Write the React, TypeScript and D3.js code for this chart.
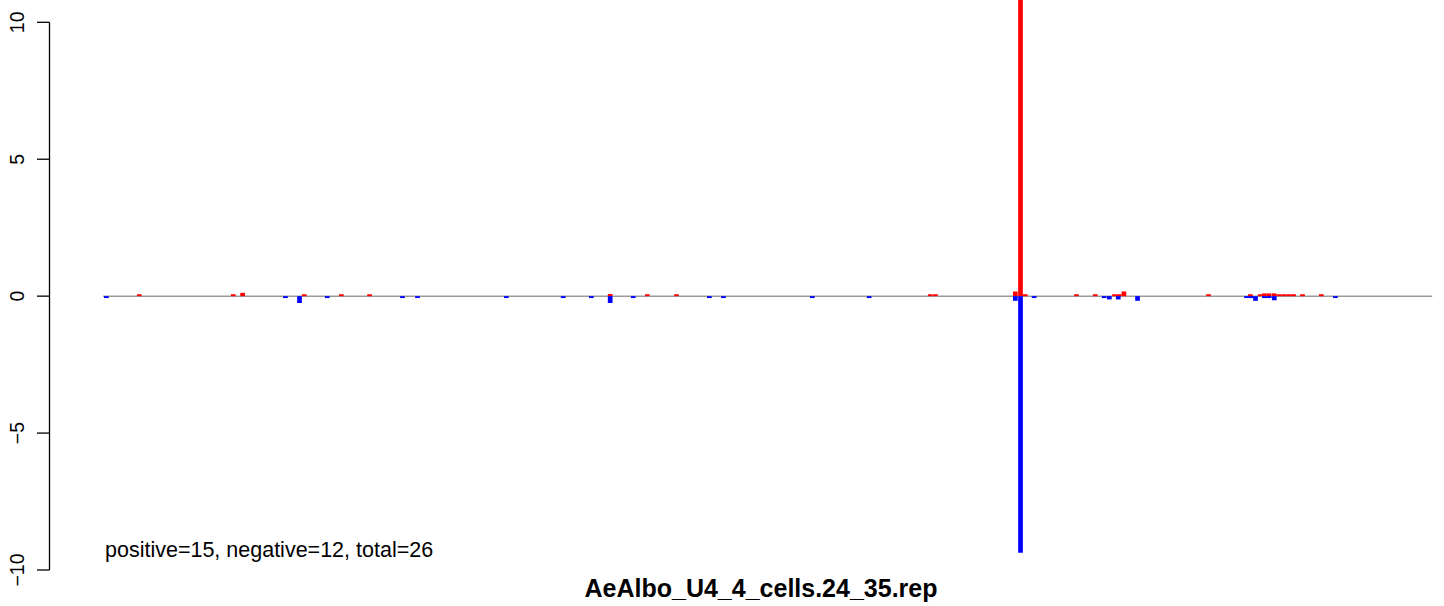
import React from "react";
import * as d3 from "d3";

// bin positions (bin index) and values
const posBins = [7.0, 27.0, 29.0, 42.1, 50.0, 56.0, 107.2, 115.1, 121.3, 175.3, 176.4, 193.4, 194.5, 195.5, 206.4, 210.4, 214.5, 215.5, 216.5, 234.5, 243.4, 245.5, 246.4, 247.4, 248.5, 249.6, 250.6, 251.6, 252.6, 254.5, 258.5];
const posValues = [0.07, 0.07, 0.12, 0.07, 0.07, 0.07, 0.08, 0.07, 0.07, 0.07, 0.07, 0.17, 12.5, 0.07, 0.07, 0.07, 0.07, 0.07, 0.17, 0.07, 0.07, 0.07, 0.1, 0.1, 0.1, 0.07, 0.07, 0.07, 0.07, 0.07, 0.07];
const negBins = [0, 38.1, 41.1, 47.0, 63.0, 66.2, 85.1, 97.2, 103.2, 107.2, 112.1, 128.3, 131.3, 150.2, 162.3, 193.4, 194.5, 197.4, 212.3, 213.4, 215.3, 219.4, 242.6, 243.6, 244.5, 246.4, 247.4, 248.5, 261.5];
const negValues = [-0.07, -0.07, -0.25, -0.07, -0.07, -0.07, -0.07, -0.07, -0.07, -0.25, -0.07, -0.07, -0.07, -0.07, -0.07, -0.17, -9.37, -0.07, -0.07, -0.12, -0.12, -0.17, -0.07, -0.07, -0.17, -0.07, -0.07, -0.15, -0.07];
const yTicks = [-10, -5, 0, 5, 10];
const lineRange = [-0.2, 282.6];
const title = "AeAlbo_U4_4_cells.24_35.rep";
const summary = "positive=15, negative=12, total=26";

const W = 1444;
const H = 606;

export default function App() {
  const x = d3.scaleLinear().domain([0, 283]).range([104, 104 + 283 * 4.7]);
  const y = d3.scaleLinear().domain([-10, 10]).range([570, 22.3]);
  const bw = x(1) - x(0);
  const axisX = 49.5;
  const font = "Liberation Sans, Arial, Helvetica, sans-serif";

  const pos = posBins.map((b, i) => ({ b, v: posValues[i] }));
  const neg = negBins.map((b, i) => ({ b, v: negValues[i] }));

  return (
    <svg width={W} height={H} style={{ position: "absolute", left: 0, top: 0, background: "#fff" }} fontFamily={font}>
      <line x1={x(lineRange[0])} x2={x(lineRange[1])} y1={y(0)} y2={y(0)} stroke="#9a9a9a" strokeWidth={1.5} />
      {pos.map((d, i) => (
        <rect key={"p" + i} x={x(d.b)} width={bw} y={Math.max(0, y(d.v))} height={y(0) - Math.max(0, y(d.v))} fill="#ff0000" />
      ))}
      {neg.map((d, i) => (
        <rect key={"n" + i} x={x(d.b)} width={bw} y={y(0)} height={y(d.v) - y(0)} fill="#0000ff" />
      ))}
      <line x1={axisX} x2={axisX} y1={y(-10)} y2={y(10)} stroke="#000" strokeWidth={1.3} />
      {yTicks.map((t) => (
        <g key={t}>
          <line x1={axisX - 12.5} x2={axisX} y1={y(t)} y2={y(t)} stroke="#000" strokeWidth={1.3} />
          <text
            transform={`translate(24,${y(t)}) rotate(-90)`}
            textAnchor="middle"
            fontSize={19.5}
            fill="#000"
          >
            {t < 0 ? "\u2212" + Math.abs(t) : String(t)}
          </text>
        </g>
      ))}
      <text x={105} y={557} fontSize={21.5} fill="#000">{summary}</text>
      <text x={761} y={597} textAnchor="middle" fontSize={25} fontWeight="bold" fill="#000">{title}</text>
    </svg>
  );
}
